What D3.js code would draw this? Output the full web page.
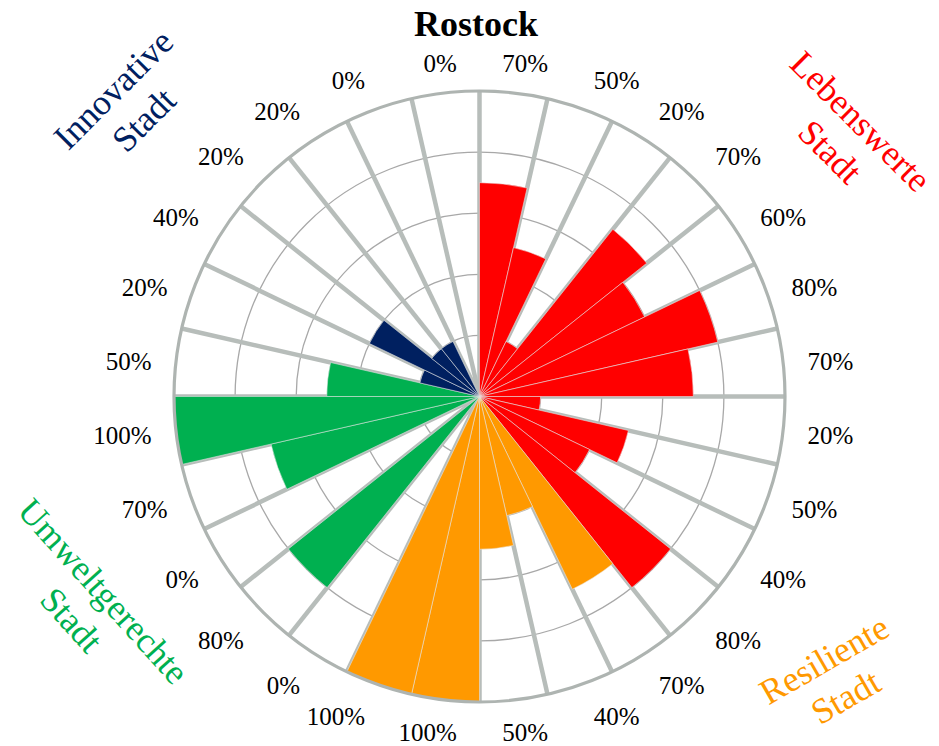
<!DOCTYPE html>
<html>
<head>
<meta charset="utf-8">
<script src="https://cdn.jsdelivr.net/npm/d3@7/dist/d3.min.js"></script>
<style>
  body { margin: 0; background: #fff; }
  text { font-family: "Liberation Serif", "Times New Roman", serif; }
</style>
</head>
<body>
<svg id="chart" width="939" height="746"></svg>
<script>
'use strict';

var title = 'Rostock';
// one value per wedge, clockwise from 12 o'clock
var values = [70, 50, 20, 70, 60, 80, 70, 20, 50, 40, 80,
  70, 40, 50, 100, 100,
  0, 80, 0, 70, 100, 50,
  20, 40, 20, 20, 0, 0];
var groupNames = [['Lebenswerte', 'Stadt'], ['Resiliente', 'Stadt'], ['Umweltgerechte', 'Stadt'], ['Innovative', 'Stadt']];
var groupSizes = [11, 5, 6, 6];
var groupColors = ['#ff0000', '#ff9900', '#00b050', '#002060'];
var gridTicks = [20, 40, 60, 80];

var svg = d3.select('#chart'),
  cx = 479.5,
  cy = 396.5,
  radius = 305.5,
  g = svg.append('g').attr('transform', 'translate(' + cx + ',' + cy + ')');

svg.insert('rect', ':first-child').attr('width', 939).attr('height', 746).attr('fill', '#fff');

// colour of every wedge from its group
var wedgeColor = [];
groupSizes.forEach(function (n, k) {
  for (var j = 0; j < n; j++) wedgeColor.push(groupColors[k]);
});

var r = d3.scaleLinear().domain([0, 100]).range([0, radius]);
var a = d3.scaleBand().domain(d3.range(values.length)).range([0, 2 * Math.PI]);

// inner grid circles
g.selectAll('.grid')
  .data(gridTicks)
  .enter().append('circle')
  .attr('class', 'grid')
  .attr('r', function (d) { return r(d); })
  .attr('fill', 'none')
  .attr('stroke', '#a8a8a8')
  .attr('stroke-width', 1.3);

// spokes
g.selectAll('.spoke')
  .data(d3.range(values.length))
  .enter().append('line')
  .attr('class', 'spoke')
  .attr('x1', 0).attr('y1', 0)
  .attr('x2', function (i) { return r(100) * Math.sin(a(i)); })
  .attr('y2', function (i) { return -r(100) * Math.cos(a(i)); })
  .attr('stroke', '#b7bdba')
  .attr('stroke-width', 4.5);

// wedges
var arc = d3.arc()
  .innerRadius(0)
  .outerRadius(function (d) { return r(d); })
  .startAngle(function (d, i) { return a(i); })
  .endAngle(function (d, i) { return a(i) + a.bandwidth(); });

g.selectAll('.bar')
  .data(values)
  .enter().append('path')
  .attr('class', 'bar')
  .attr('d', function (d, i) { return d > 0 ? arc(d, i) : null; })
  .attr('fill', function (d, i) { return wedgeColor[i]; })
  .attr('stroke', '#e8e8e8')
  .attr('stroke-opacity', 0.6)
  .attr('stroke-width', 0.9);

// outer ring
g.append('circle')
  .attr('r', r(100))
  .attr('fill', 'none')
  .attr('stroke', '#aeb4b1')
  .attr('stroke-width', 3.2);

// value labels round the outside
var fs = 25;
var R0 = r(100) + 16.5;
function clamp(v) { return Math.max(0, Math.min(1, v)); }

g.selectAll('.val')
  .data(values)
  .enter().append('text')
  .attr('class', 'val')
  .attr('font-size', fs)
  .attr('text-anchor', 'middle')
  .attr('fill', '#000')
  .text(function (d) { return d + '%'; })
  .each(function (d, i) {
    var w = this.getComputedTextLength();
    var t = a(i) + a.bandwidth() / 2;
    var s = Math.sin(t), c = Math.cos(t);
    var offX = w / 2 + 8 - 21.5 * clamp((0.33 - Math.abs(s)) / 0.22);
    var offY = 14.5 * Math.min(1, Math.pow(Math.abs(c) / 0.707, 1.5));
    var x = R0 * s + Math.sign(s) * offX;
    var y = 2 - R0 * c - Math.sign(c) * offY;
    d3.select(this).attr('x', x).attr('y', y + 0.338 * fs);
  });

// title
svg.append('text')
  .attr('x', cx - 3.5)
  .attr('y', 36)
  .attr('text-anchor', 'middle')
  .attr('font-size', 36)
  .attr('font-weight', 'bold')
  .text(title);

// group names, rotated like the original word art
var groupPos = [
  {x: cx + 365, y: cy - 259, rot: 45},
  {x: cx + 356, y: cy + 283, rot: -30},
  {x: cx - 393, y: cy + 210, rot: 48},
  {x: cx - 350, y: cy - 291, rot: -45}
];
var cfs = 35.5, lineGap = 43;

groupNames.forEach(function (lines, k) {
  var p = groupPos[k];
  var t = svg.append('text')
    .attr('transform', 'translate(' + p.x + ',' + p.y + ') rotate(' + p.rot + ')')
    .attr('text-anchor', 'middle')
    .attr('font-size', cfs)
    .attr('fill', groupColors[k]);
  lines.forEach(function (ln, j) {
    t.append('tspan')
      .attr('x', 0)
      .attr('y', (j - 0.5) * lineGap + 0.3 * cfs)
      .text(ln);
  });
});
</script>
</body>
</html>
